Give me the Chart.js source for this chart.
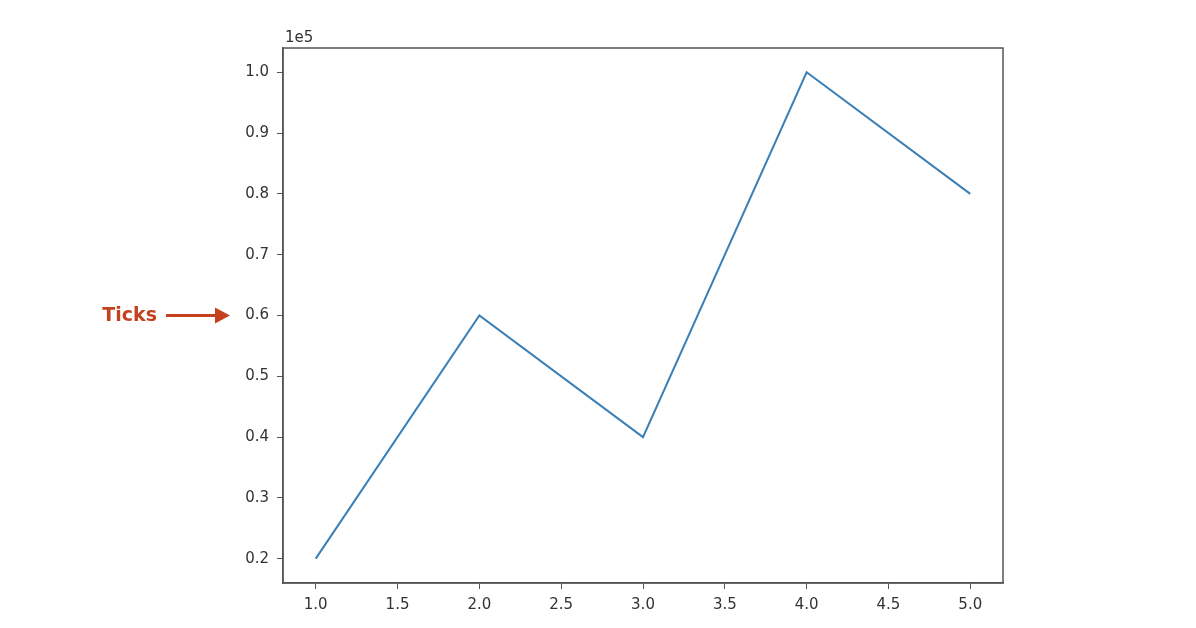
<!DOCTYPE html>
<html>
<head>
<meta charset="utf-8">
<script src="https://cdn.jsdelivr.net/npm/chart.js@4/dist/chart.umd.min.js"></script>
<style>
    html, body { margin: 0; padding: 0; background: #fff; }
    #wrap { width: 1196px; height: 628px; }
</style>
</head>
<body>
<div id="wrap"><canvas id="grafico"></canvas></div>
<script>
// datos del gráfico
const xValores = [1, 2, 3, 4, 5];
const yValores = [20000, 60000, 40000, 100000, 80000];
const xTicks = [1.0, 1.5, 2.0, 2.5, 3.0, 3.5, 4.0, 4.5, 5.0];
const yTicks = [20000, 30000, 40000, 50000, 60000, 70000, 80000, 90000, 100000];
const factor = 1e5;
const etiquetaFactor = "1e5";
const nota = "Ticks";
const notaValor = 60000;

const puntos = xValores.map((x, i) => ({ x: x, y: yValores[i] }));

// marco completo alrededor del área y textos extra
const marco = {
    id: "marco",
    afterDraw(chart) {
        const ctx = chart.ctx;
        const a = chart.chartArea;
        ctx.save();
        ctx.strokeStyle = "#555";
        ctx.lineWidth = 1.5;
        ctx.strokeRect(a.left, a.top, a.right - a.left, a.bottom - a.top);

        ctx.fillStyle = "#333";
        ctx.font = "15px 'DejaVu Sans'";
        ctx.textAlign = "left";
        ctx.textBaseline = "alphabetic";
        ctx.fillText(etiquetaFactor, a.left + 2, a.top - 6);

        // anotación roja
        const y = chart.scales.y.getPixelForValue(notaValor);
        ctx.fillStyle = "#c4411f";
        ctx.strokeStyle = "#c4411f";
        ctx.font = "bold 19px 'DejaVu Sans'";
        ctx.textAlign = "right";
        ctx.textBaseline = "middle";
        ctx.fillText(nota, 157, y + 1);
        ctx.lineWidth = 3;
        ctx.beginPath();
        ctx.moveTo(166, y);
        ctx.lineTo(218, y);
        ctx.stroke();
        ctx.beginPath();
        ctx.moveTo(230, y);
        ctx.lineTo(215, y - 8);
        ctx.lineTo(215, y + 8);
        ctx.closePath();
        ctx.fill();
        ctx.restore();
    }
};

new Chart("grafico", {
    type: "scatter",
    data: {
        datasets: [{
            data: puntos,
            showLine: true,
            borderColor: "#3a7fb6",
            borderWidth: 2,
            pointRadius: 0,
            tension: 0
        }]
    },
    options: {
        responsive: true,
        maintainAspectRatio: false,
        animation: false,
        layout: {
            padding: { left: 223, right: 193, top: 48, bottom: 0 }
        },
        plugins: {
            legend: { display: false },
            tooltip: { enabled: false }
        },
        scales: {
            x: {
                type: "linear",
                min: 0.8,
                max: 5.2,
                afterBuildTicks: (s) => { s.ticks = xTicks.map(v => ({ value: v })); },
                afterFit: (s) => { s.height = 45; },
                border: { display: true, color: "#555", width: 1.5 },
                grid: { drawOnChartArea: false, drawTicks: true, tickLength: 6, color: "#555" },
                ticks: {
                    color: "#333",
                    padding: 7,
                    font: { family: "DejaVu Sans", size: 15 },
                    callback: (v) => Number(v).toFixed(1)
                }
            },
            y: {
                type: "linear",
                min: 16000,
                max: 104000,
                afterBuildTicks: (s) => { s.ticks = yTicks.map(v => ({ value: v })); },
                afterFit: (s) => { s.width = 60; },
                border: { display: true, color: "#555", width: 1.5 },
                grid: { drawOnChartArea: false, drawTicks: true, tickLength: 6, color: "#555" },
                ticks: {
                    color: "#333",
                    padding: 8,
                    font: { family: "DejaVu Sans", size: 15 },
                    callback: (v) => (v / factor).toFixed(1)
                }
            }
        }
    },
    plugins: [marco]
});
</script>
</body>
</html>
